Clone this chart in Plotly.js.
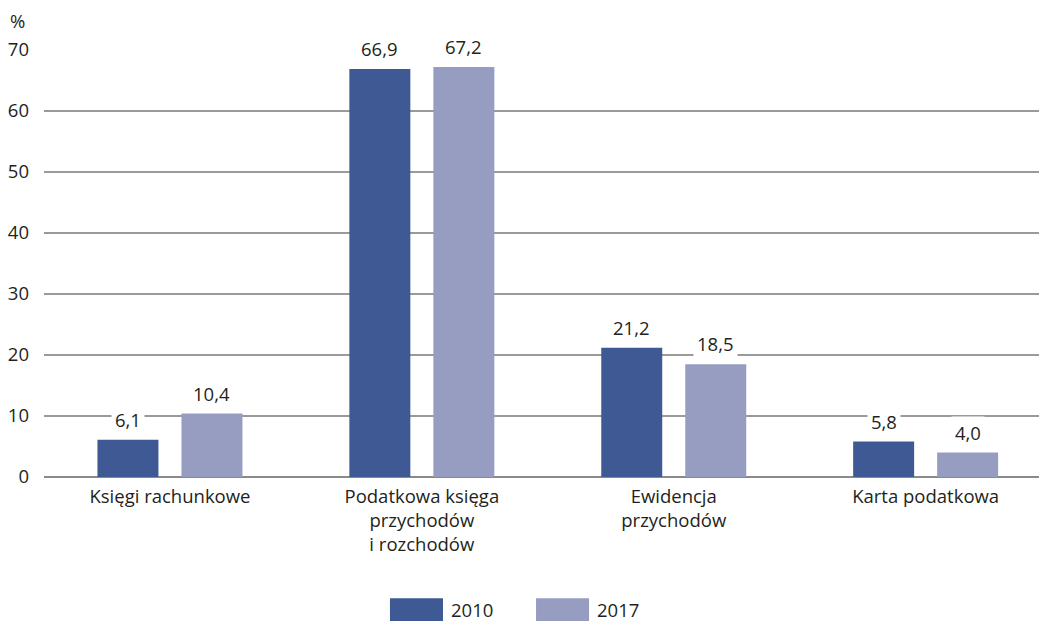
<!DOCTYPE html>
<html>
<head>
<meta charset="utf-8">
<script src="https://cdn.plot.ly/plotly-3.0.1.min.js"></script>
<style>html,body{margin:0;padding:0;background:#fff;}#chart{width:1039px;height:621px;}</style>
</head>
<body>
<div id="chart"></div>
<script>
var categories = ["Księgi rachunkowe", "Podatkowa księga<br>przychodów<br>i rozchodów", "Ewidencja<br>przychodów", "Karta podatkowa"];
var series2010 = [6.1, 66.9, 21.2, 5.8];
var series2017 = [10.4, 67.2, 18.5, 4.0];
var seriesNames = ["2010", "2017"];
var yTicks = [0, 10, 20, 30, 40, 50, 60, 70];

var colors = ["#3e5994", "#969dc0"];
var fontFam = "Open Sans, Noto Sans, sans-serif";
var textColor = "#231f20";
var fs = 18.5;

function fmt(v){ return v.toFixed(1).replace('.', ','); }

var traces = [
  {type:'bar', x:categories, y:series2010, name:seriesNames[0], marker:{color:colors[0]}, hoverinfo:'none'},
  {type:'bar', x:categories, y:series2017, name:seriesNames[1], marker:{color:colors[1]}, hoverinfo:'none'}
];

var bargap = 0.333, bargroupgap = 0.274;
var slot = (1 - bargap) / 2;
var annotations = [];
[series2010, series2017].forEach(function(s, si){
  s.forEach(function(v, i){
    annotations.push({
      x: i + (si === 0 ? -slot/2 : slot/2), xref:'x', y:v, yref:'y',
      text: fmt(v), showarrow:false, yanchor:'bottom', yshift:4,
      bgcolor:'#ffffff', borderpad:3,
      font:{family:fontFam, size:fs, color:textColor}
    });
  });
});
annotations.push({x:-0.027, xref:'paper', y:1.07, yref:'paper', text:'%', showarrow:false,
  xanchor:'center', yanchor:'middle', font:{family:fontFam, size:fs, color:textColor}});

// custom legend
var shapes = [];
var legX = [0.3477, 0.4945];
seriesNames.forEach(function(n, k){
  var x0 = legX[k];
  shapes.push({type:'rect', xref:'paper', yref:'paper', x0:x0, x1:x0+0.0533, y0:-0.337, y1:-0.284,
    fillcolor:colors[k], line:{width:0}});
  annotations.push({x:x0+0.0533+0.006, xref:'paper', y:-0.311, yref:'paper', text:n, showarrow:false,
    xanchor:'left', yanchor:'middle', font:{family:fontFam, size:fs, color:textColor}});
});

var layout = {
  width:1039, height:621,
  margin:{l:44, r:0, t:50, b:144},
  paper_bgcolor:'#ffffff', plot_bgcolor:'#ffffff',
  barmode:'group', bargap:bargap, bargroupgap:bargroupgap,
  showlegend:false,
  font:{family:fontFam, size:fs, color:textColor},
  xaxis:{type:'category', range:[-0.5, 3.45], showgrid:false, zeroline:false, showline:false,
    ticks:'', ticklabelstandoff:6, tickfont:{family:fontFam, size:fs, color:textColor}, fixedrange:true},
  yaxis:{range:[0, 70], tickvals:yTicks, ticktext:yTicks.map(String), showgrid:true,
    gridcolor:'#9a9a9a', gridwidth:1.2, zeroline:true, zerolinecolor:'#8a8a8a', zerolinewidth:1.5,
    showline:false, ticks:'', ticklabelstandoff:14,
    tickfont:{family:fontFam, size:fs, color:textColor}, fixedrange:true},
  annotations:annotations,
  shapes:shapes
};

Plotly.newPlot('chart', traces, layout, {displayModeBar:false, staticPlot:true});
</script>
</body>
</html>
